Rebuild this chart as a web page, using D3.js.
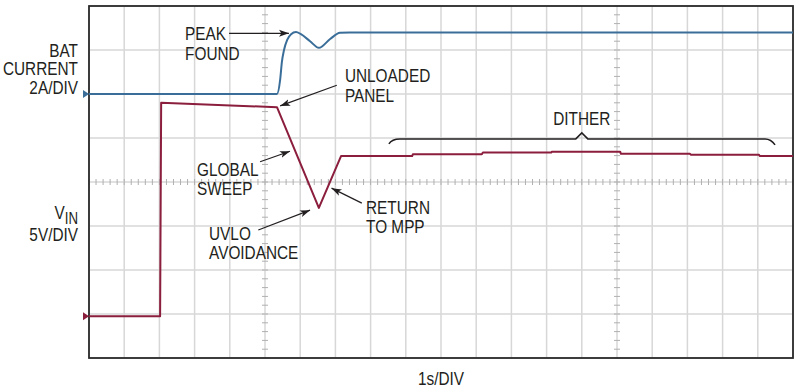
<!DOCTYPE html>
<html>
<head>
<meta charset="utf-8">
<script src="https://cdn.jsdelivr.net/npm/d3@7"></script>
<style>
  body { margin: 0; background: #fff; }
  svg text { font-family: "Liberation Sans", Arial, sans-serif; fill: #231f20; }
</style>
</head>
<body>
<div id="scope"></div>
<script>
// trace data, time in s (1 grid column = 1 s), values in channel units
const batTime    = [0, 5.34, 5.43, 5.48, 5.54, 5.63, 5.74, 5.88, 6.02, 6.28, 6.53, 6.85, 7.13, 7.41, 20];
const batCurrent = [0, 0,    0.64, 1.46, 2.0,  2.46, 2.72, 2.82, 2.72, 2.4,  2.1,  2.5,  2.78, 2.8,  2.8];

const vinTime = [0, 2.02, 2.05, 5.34, 6.53, 7.16, 9.18, 9.2, 11.16, 11.19, 13.13, 13.15, 15.09, 15.11, 17.07, 17.1, 19.03, 19.06, 20];
const vinVolt = [0, 0, 24.25, 23.75, 12.3, 18.2, 18.2, 18.4, 18.4, 18.6, 18.6, 18.7, 18.7, 18.45, 18.45, 18.35, 18.35, 18.2, 18.2];

// channel settings: zero position (in divisions) and units per division
const batZero = 6, batPerDiv = 2;     // 2A/DIV
const vinZero = 0.95, vinPerDiv = 5;  // 5V/DIV

const xCols = d3.range(0, 21);
const yRows = d3.range(0, 9);
const tickAxesX = [5, 15];
const tickAxisY = 4;

const chLabels = [
  {lines: ["BAT", "CURRENT", "2A/DIV"], y: 6.84, lh: 18.3},
  {lines: ["V", "5V/DIV"], y: 3.17, lh: 22.5, sub: "IN"}
];

const notes = [
  {lines: ["PEAK", "FOUND"], x: 2.73, y: 7.22, arrow: [3.98, 7.38, 5.68, 7.38]},
  {lines: ["UNLOADED", "PANEL"], x: 7.27, y: 6.27, arrow: [7.04, 6.2, 5.43, 5.73]},
  {lines: ["GLOBAL", "SWEEP"], x: 3.07, y: 4.14, arrow: [4.86, 4.46, 5.71, 4.7]},
  {lines: ["RETURN", "TO MPP"], x: 7.87, y: 3.28, arrow: [7.75, 3.52, 6.89, 3.86]},
  {lines: ["UVLO", "AVOIDANCE"], x: 3.41, y: 2.69, arrow: [4.81, 2.91, 6.28, 3.36]}
];
const dither = {label: "DITHER", x0: 8.52, x1: 19.49, xm: 14.0, y: 4.98, ty: 5.3};

const W = 799, H = 389;
const margin = {top: 6, right: 6, bottom: 31, left: 89};
const squeeze = 0.83; // condensed look of the original lettering

const svg = d3.select("#scope").append("svg")
  .attr("width", W).attr("height", H);

const x = d3.scaleLinear().domain([0, 20]).range([margin.left, W - margin.right]);
const y = d3.scaleLinear().domain([0, 8]).range([H - margin.bottom, margin.top]);
const yBat = v => y(batZero + v / batPerDiv);
const yVin = v => y(vinZero + v / vinPerDiv);

// text block drawn narrow: each line is a tspan, group is squeezed horizontally
function label(px, py, lines, anchor, lh, sub) {
  const g = svg.append("g").attr("transform", `translate(${px},${py}) scale(${squeeze},1)`);
  const t = g.append("text").attr("text-anchor", anchor).style("font-size", "18.5px");
  lines.forEach((s, i) => {
    const ts = t.append("tspan").attr("x", 0).attr("y", i * lh).text(s);
    if (i === 0 && sub) ts.append("tspan").attr("dy", 5.5).style("font-size", "16px").text(sub);
  });
  return g;
}

// grid
const grid = svg.append("g").attr("stroke", "#d7d7d7").attr("stroke-width", 1.5);
grid.selectAll(".gx").data(xCols).join("line")
  .attr("x1", d => x(d)).attr("x2", d => x(d))
  .attr("y1", y(8)).attr("y2", y(0));
grid.selectAll(".gy").data(yRows).join("line")
  .attr("x1", x(0)).attr("x2", x(20))
  .attr("y1", d => y(d)).attr("y2", d => y(d));

// minor ticks on the center axes
const ticks = svg.append("g").attr("stroke", "#b0b0b0").attr("stroke-width", 1);
ticks.selectAll(".th").data(d3.range(0, 20.01, 0.2)).join("line")
  .attr("x1", d => x(d)).attr("x2", d => x(d))
  .attr("y1", y(tickAxisY) - 3).attr("y2", y(tickAxisY) + 3);
tickAxesX.forEach(ax => {
  ticks.selectAll(null).data(d3.range(0, 8.01, 0.2)).join("line")
    .attr("x1", x(ax) - 3).attr("x2", x(ax) + 3)
    .attr("y1", d => y(d)).attr("y2", d => y(d));
});

// frame
svg.append("rect")
  .attr("x", x(0)).attr("y", y(8))
  .attr("width", x(20) - x(0)).attr("height", y(0) - y(8))
  .attr("fill", "none").attr("stroke", "#2b2b2b").attr("stroke-width", 1.8);

// traces
const batLine = d3.line().x((d, i) => x(batTime[i])).y(d => yBat(d)).curve(d3.curveMonotoneX);
const vinLine = d3.line().x((d, i) => x(vinTime[i])).y(d => yVin(d));

svg.append("path").datum(batCurrent)
  .attr("d", batLine).attr("fill", "none")
  .attr("stroke", "#3a6e99").attr("stroke-width", 2);
svg.append("path").datum(vinVolt)
  .attr("d", vinLine).attr("fill", "none")
  .attr("stroke", "#8b1d3d").attr("stroke-width", 2).attr("stroke-linejoin", "round");

// channel zero markers
[[yBat(0), "#3a6e99"], [yVin(0), "#8b1d3d"]].forEach(([py, c]) => {
  svg.append("path")
    .attr("d", `M${x(0) - 6},${py - 4}L${x(0)},${py}L${x(0) - 6},${py + 4}Z`)
    .attr("fill", c);
});

// channel labels
chLabels.forEach(lb => label(78, y(lb.y), lb.lines, "end", lb.lh, lb.sub));

// x label
label(x(10), 385, ["1s/DIV"], "middle", 0);

// annotations
svg.append("defs").append("marker")
  .attr("id", "head").attr("viewBox", "0 0 10 10")
  .attr("refX", 10).attr("refY", 5)
  .attr("markerWidth", 10).attr("markerHeight", 10)
  .attr("markerUnits", "userSpaceOnUse")
  .attr("orient", "auto")
  .append("path").attr("d", "M0,1.5L10,5L0,8.5L2.5,5Z").attr("fill", "#231f20");

notes.forEach(n => {
  label(x(n.x), y(n.y), n.lines, "start", 19.5);
  const a = n.arrow;
  svg.append("line")
    .attr("x1", x(a[0])).attr("y1", y(a[1]))
    .attr("x2", x(a[2])).attr("y2", y(a[3]))
    .attr("stroke", "#231f20").attr("stroke-width", 1.2)
    .attr("marker-end", "url(#head)");
});

// dither brace
const by = y(dither.y);
const bp = d3.path();
bp.moveTo(x(dither.x0), by + 5);
bp.quadraticCurveTo(x(dither.x0) + 3, by, x(dither.x0) + 11, by);
bp.lineTo(x(dither.xm) - 6, by);
bp.lineTo(x(dither.xm), by - 6);
bp.lineTo(x(dither.xm) + 6, by);
bp.lineTo(x(dither.x1) - 10, by);
bp.quadraticCurveTo(x(dither.x1) - 4, by, x(dither.x1), by + 6);
svg.append("path").attr("d", bp.toString())
  .attr("fill", "none").attr("stroke", "#231f20").attr("stroke-width", 1.5);
label(x(dither.xm), y(dither.ty), [dither.label], "middle", 0);
</script>
</body>
</html>
